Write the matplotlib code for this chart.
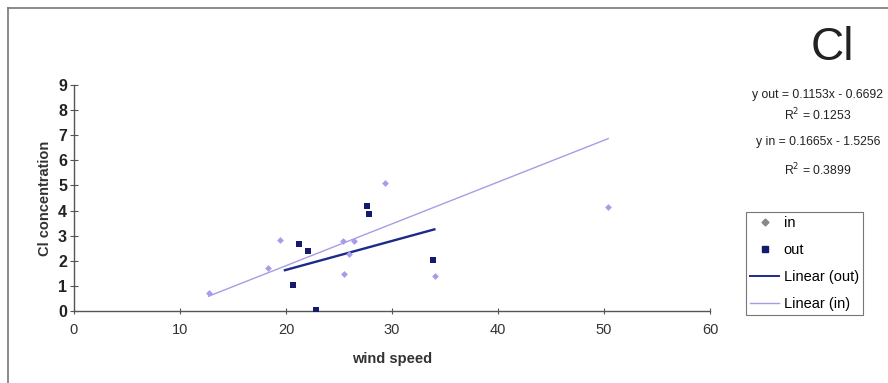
import matplotlib.pyplot as plt
import numpy as np
from matplotlib.lines import Line2D

plt.rcParams['font.family'] = ['Liberation Sans', 'DejaVu Sans']

# wind speed vs Cl concentration
in_x = [12.7, 18.3, 19.4, 25.4, 26.4, 25.9, 25.5, 29.3, 34.1, 50.4]
in_y = [0.73, 1.70, 2.82, 2.77, 2.80, 2.28, 1.47, 5.10, 1.40, 4.15]
out_x = [20.7, 21.2, 22.1, 22.8, 27.6, 27.8, 33.9]
out_y = [1.02, 2.66, 2.40, 0.05, 4.18, 3.87, 2.04]

# trendline coefficients as printed on the chart
out_fit = (0.1153, -0.6692)
in_fit = (0.1665, -1.5256)
out_range = (19.9, 34.0)
in_range = (12.7, 50.4)

eq_lines = ["y out = 0.1153x - 0.6692", "R$^2$ = 0.1253",
            "y in = 0.1665x - 1.5256", "R$^2$ = 0.3899"]

in_col = '#a89ce8'
out_col = '#141a6e'

fig = plt.figure(figsize=(8.88, 3.83), dpi=100)
ax = fig.add_axes([0.0833, 0.188, 0.7162, 0.590])

xs = np.array(in_range)
ax.plot(xs, in_fit[0] * xs + in_fit[1], color=in_col, lw=1.0, zorder=2)
xs = np.array(out_range)
ax.plot(xs, out_fit[0] * xs + out_fit[1], color='#1c2a8c', lw=1.7, zorder=3)

ax.scatter(in_x, in_y, marker='D', s=12, color=in_col, zorder=4, linewidths=0)
ax.scatter(out_x, out_y, marker='s', s=24, color=out_col, zorder=5, linewidths=0)

ax.set_xlim(0, 60)
ax.set_ylim(0, 9)
ax.set_xticks(range(0, 61, 10))
ax.set_yticks(range(0, 10))
for s in ['top', 'right']:
    ax.spines[s].set_visible(False)
for s in ['left', 'bottom']:
    ax.spines[s].set_color('#555555')
    ax.spines[s].set_linewidth(1.0)
ax.tick_params(axis='y', direction='inout', length=6, width=0.8, colors='#555555',
               labelcolor='#222222', labelsize=11.5, pad=2)
ax.tick_params(axis='x', direction='inout', length=5, width=0.8, colors='#555555',
               labelcolor='#333333', labelsize=10.5, pad=6)
for t in ax.get_yticklabels():
    t.set_fontweight('bold')

ax.set_xlabel('wind speed', fontsize=10.5, fontweight='bold', color='#333333', labelpad=11)
ax.set_ylabel('Cl concentration', fontsize=10.5, fontweight='bold', color='#333333', labelpad=4)

# title and equations at the right
fig.text(0.937, 0.875, 'Cl', fontsize=33, ha='center', va='center', color='#222222')
eq_y = [0.752, 0.700, 0.629, 0.556]
for txt, yy in zip(eq_lines, eq_y):
    fig.text(0.921, yy, txt, fontsize=8.8, ha='center', va='center', color='#222222')

handles = [
    Line2D([], [], marker='D', ls='none', color='#888888', markersize=3.5),
    Line2D([], [], marker='s', ls='none', color=out_col, markersize=4.5),
    Line2D([], [], color='#1c2a8c', lw=1.4),
    Line2D([], [], color=in_col, lw=1.0),
]
labels = ['in', 'out', 'Linear (out)', 'Linear (in)']
leg = fig.legend(handles, labels, loc='upper left', bbox_to_anchor=(0.840, 0.447),
                 fontsize=10.5, frameon=True, fancybox=False, edgecolor='#555555',
                 handlelength=2.0, handletextpad=0.3, borderpad=0.3, labelspacing=0.88,
                 borderaxespad=0)
leg.get_frame().set_linewidth(0.8)

# outer chart border (only left and top survive in the scan)
fig.add_artist(Line2D([0.009, 0.009], [0.0, 0.979], color='#777777', lw=1.2,
                      transform=fig.transFigure))
fig.add_artist(Line2D([0.009, 1.0], [0.979, 0.979], color='#777777', lw=1.2,
                      transform=fig.transFigure))

fig.savefig('out.png', dpi=100)
